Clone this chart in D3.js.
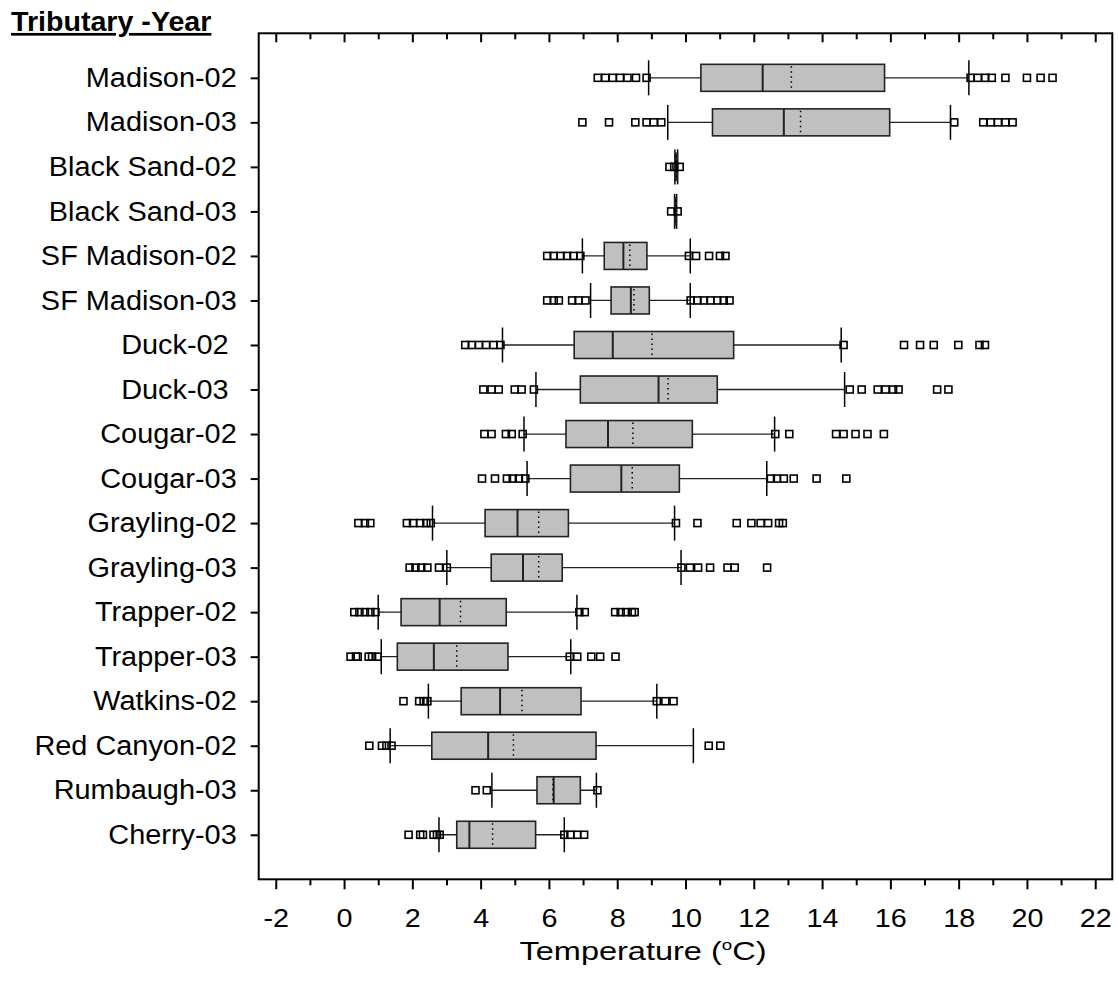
<!DOCTYPE html>
<html>
<head>
<meta charset="utf-8">
<script src="https://cdn.jsdelivr.net/npm/d3@7"></script>
<style>
  body { margin: 0; background: #fff; }
  text { font-family: "Liberation Sans", Arial, sans-serif; fill: #000; }
</style>
</head>
<body>
<svg id="chart" width="1118" height="994"></svg>
<script>
// tributary-year groups, top to bottom (trailing spaces are in the original labels)
var categories = ["Madison-02", "Madison-03", "Black Sand-02", "Black Sand-03", "SF Madison-02", "SF Madison-03",
    "Duck-02 ", "Duck-03 ", "Cougar-02", "Cougar-03", "Grayling-02", "Grayling-03",
    "Trapper-02", "Trapper-03", "Watkins-02", "Red Canyon-02", "Rumbaugh-03", "Cherry-03"];

var whiskerLo = [8.92, 9.48, 9.69, 9.68, 6.98, 7.22, 4.64, 5.62, 5.27, 5.36, 2.59, 3.01, 1.00, 1.09, 2.47, 1.35, 4.33, 2.78];
var q1 =        [10.45, 10.79, 9.70, 9.69, 7.62, 7.82, 6.74, 6.92, 6.50, 6.63, 4.13, 4.31, 1.67, 1.56, 3.43, 2.57, 5.65, 3.30];
var median =    [12.26, 12.88, 9.73, 9.71, 8.18, 8.40, 7.87, 9.21, 7.73, 8.12, 5.08, 5.24, 2.80, 2.63, 4.57, 4.22, 6.14, 3.67];
var mean =      [13.10, 13.37, 9.73, 9.71, 8.37, 8.49, 9.02, 9.49, 8.46, 8.44, 5.70, 5.70, 3.41, 3.30, 5.21, 4.96, 6.12, 4.35];
var q3 =        [15.83, 15.98, 9.76, 9.73, 8.87, 8.94, 11.41, 10.93, 10.20, 9.82, 6.57, 6.39, 4.75, 4.80, 6.94, 7.38, 6.92, 5.61];
var whiskerHi = [18.30, 17.76, 9.77, 9.74, 10.14, 10.14, 14.56, 14.66, 12.61, 12.38, 9.68, 9.87, 6.82, 6.64, 9.16, 10.23, 7.39, 6.45];

var outliers = [
    [7.43, 7.65, 7.87, 8.08, 8.30, 8.55, 8.86, 18.35, 18.56, 18.78, 18.97, 19.37, 20.0, 20.4, 20.75],
    [6.98, 7.76, 8.53, 8.86, 9.07, 9.29, 17.87, 18.72, 18.94, 19.15, 19.37, 19.58],
    [9.53, 9.67, 9.83],
    [9.58, 9.77],
    [5.95, 6.14, 6.34, 6.53, 6.72, 6.92, 10.10, 10.31, 10.69, 11.01, 11.17],
    [5.95, 6.14, 6.29, 6.68, 6.87, 7.07, 10.15, 10.35, 10.54, 10.73, 10.93, 11.12, 11.29],
    [3.55, 3.74, 3.95, 4.16, 4.37, 4.58, 14.63, 16.40, 16.87, 17.27, 17.99, 18.61, 18.77],
    [4.08, 4.32, 4.53, 5.00, 5.20, 5.56, 14.81, 15.16, 15.63, 15.86, 16.08, 16.24, 17.37, 17.70],
    [4.11, 4.32, 4.74, 4.91, 5.23, 12.63, 13.04, 14.41, 14.63, 14.98, 15.33, 15.81],
    [4.04, 4.42, 4.77, 4.94, 5.12, 5.31, 12.50, 12.68, 12.88, 13.17, 13.84, 14.71],
    [0.42, 0.61, 0.77, 1.84, 2.02, 2.23, 2.41, 2.54, 9.72, 10.35, 11.50, 11.93, 12.20, 12.42, 12.74, 12.85],
    [1.92, 2.09, 2.26, 2.44, 2.78, 3.01, 9.88, 10.13, 10.37, 10.72, 11.23, 11.44, 12.39],
    [0.30, 0.45, 0.61, 0.77, 0.92, 6.89, 7.05, 7.94, 8.10, 8.26, 8.43, 8.51],
    [0.19, 0.35, 0.40, 0.72, 0.82, 0.98, 6.61, 6.83, 7.24, 7.50, 7.95],
    [1.74, 2.20, 2.33, 2.44, 9.16, 9.41, 9.65],
    [0.74, 1.11, 1.24, 1.39, 10.68, 11.02],
    [3.85, 4.18, 7.42],
    [1.89, 2.23, 2.31, 2.62, 2.72, 2.80, 6.45, 6.63, 6.83, 7.03]
];

var majorTicks = [-2, 0, 2, 4, 6, 8, 10, 12, 14, 16, 18, 20, 22];
var minorTicks = [-1, 1, 3, 5, 7, 9, 11, 13, 15, 17, 19, 21];

var svg = d3.select("#chart");
var plotL = 258.7, plotR = 1112.3, plotT = 33.3, plotB = 879.3;
var stretch = 1.15;   // tick numbers in the original are a little wide
var lblStretch = 1.07;

var x = d3.scaleLinear().domain([-2.5, 22.5]).range([plotL, plotR]);
var y = d3.scalePoint().domain(categories).range([plotT, plotB]).padding(1);

var boxH = 27, capH = 35, sq = 7;

function styleTicks(g, w) {
    g.select(".domain").remove();
    g.selectAll("line").attr("stroke", "#000").attr("stroke-width", w);
}

// bottom axis: major ticks with labels, minor ticks without
var bAxis = svg.append("g").attr("transform", "translate(0," + plotB + ")")
    .call(d3.axisBottom(x).tickValues(majorTicks).tickSize(10).tickPadding(20)
        .tickFormat(function(d) { return String(d); }));
styleTicks(bAxis, 2);
bAxis.selectAll("text")
    .style("font-size", "25px").style("font-family", "'Liberation Sans', Arial, sans-serif")
    .attr("fill", "#000")
    .attr("transform", "scale(" + stretch + ",1)");

var bMinor = svg.append("g").attr("transform", "translate(0," + plotB + ")")
    .call(d3.axisBottom(x).tickValues(minorTicks).tickSize(6).tickFormat(""));
styleTicks(bMinor, 2);

// top ticks point inward
var tAxis = svg.append("g").attr("transform", "translate(0," + plotT + ")")
    .call(d3.axisBottom(x).tickValues(majorTicks).tickSize(9).tickFormat(""));
styleTicks(tAxis, 2);
var tMinor = svg.append("g").attr("transform", "translate(0," + plotT + ")")
    .call(d3.axisBottom(x).tickValues(minorTicks).tickSize(6).tickFormat(""));
styleTicks(tMinor, 2);

// left axis with group names
var lAxis = svg.append("g").attr("transform", "translate(" + plotL + ",0)")
    .call(d3.axisLeft(y).tickSize(8).tickPadding(14));
styleTicks(lAxis, 2);
lAxis.selectAll("text")
    .style("font-size", "27px").style("white-space", "pre")
    .style("font-family", "'Liberation Sans', Arial, sans-serif").attr("fill", "#000")
    .attr("x", -22 / lblStretch)
    .attr("transform", "scale(" + lblStretch + ",1)");

// frame
svg.append("rect")
    .attr("x", plotL).attr("y", plotT)
    .attr("width", plotR - plotL).attr("height", plotB - plotT)
    .attr("fill", "none").attr("stroke", "#000").attr("stroke-width", 2);

// boxes
var rows = svg.selectAll(".row")
    .data(categories)
    .enter().append("g")
    .attr("class", "row")
    .attr("transform", function(d) { return "translate(0," + y(d) + ")"; });

rows.append("line")
    .attr("x1", function(d, i) { return x(whiskerLo[i]); })
    .attr("x2", function(d, i) { return x(whiskerHi[i]); })
    .attr("stroke", "#222").attr("stroke-width", 1.3);

rows.append("line")
    .attr("x1", function(d, i) { return x(whiskerLo[i]); })
    .attr("x2", function(d, i) { return x(whiskerLo[i]); })
    .attr("y1", -capH / 2).attr("y2", capH / 2)
    .attr("stroke", "#000").attr("stroke-width", 1.5);
rows.append("line")
    .attr("x1", function(d, i) { return x(whiskerHi[i]); })
    .attr("x2", function(d, i) { return x(whiskerHi[i]); })
    .attr("y1", -capH / 2).attr("y2", capH / 2)
    .attr("stroke", "#000").attr("stroke-width", 1.5);

rows.append("rect")
    .attr("x", function(d, i) { return x(q1[i]); })
    .attr("width", function(d, i) { return x(q3[i]) - x(q1[i]); })
    .attr("y", -boxH / 2).attr("height", boxH)
    .attr("fill", "#c0c0c0").attr("stroke", "#222").attr("stroke-width", 1.6);

rows.append("line")
    .attr("x1", function(d, i) { return x(median[i]); })
    .attr("x2", function(d, i) { return x(median[i]); })
    .attr("y1", -boxH / 2).attr("y2", boxH / 2)
    .attr("stroke", "#222").attr("stroke-width", 2);

rows.append("line")
    .attr("x1", function(d, i) { return x(mean[i]); })
    .attr("x2", function(d, i) { return x(mean[i]); })
    .attr("y1", -boxH / 2 + 2).attr("y2", boxH / 2)
    .attr("stroke", "#000").attr("stroke-width", 1.5)
    .attr("stroke-dasharray", "1.5,3.5");

rows.selectAll(".out")
    .data(function(d, i) { return outliers[i]; })
    .enter().append("rect")
    .attr("class", "out")
    .attr("x", function(v) { return x(v) - sq / 2; })
    .attr("y", -sq / 2)
    .attr("width", sq).attr("height", sq)
    .attr("fill", "none").attr("stroke", "#000").attr("stroke-width", 1.6);

// titles
svg.append("g").attr("transform", "translate(11,31) scale(1.06,1)")
    .append("text")
    .style("font-size", "27px").style("font-weight", "bold")
    .style("text-decoration", "underline")
    .text("Tributary -Year");

var xt = svg.append("g").attr("transform", "translate(643,960) scale(1.25,1)")
    .append("text")
    .attr("text-anchor", "middle")
    .style("font-size", "26px");
xt.append("tspan").text("Temperature (");
xt.append("tspan").attr("dy", -10).style("font-size", "15px").text("o");
xt.append("tspan").attr("dy", 10).text("C)");
</script>
</body>
</html>
